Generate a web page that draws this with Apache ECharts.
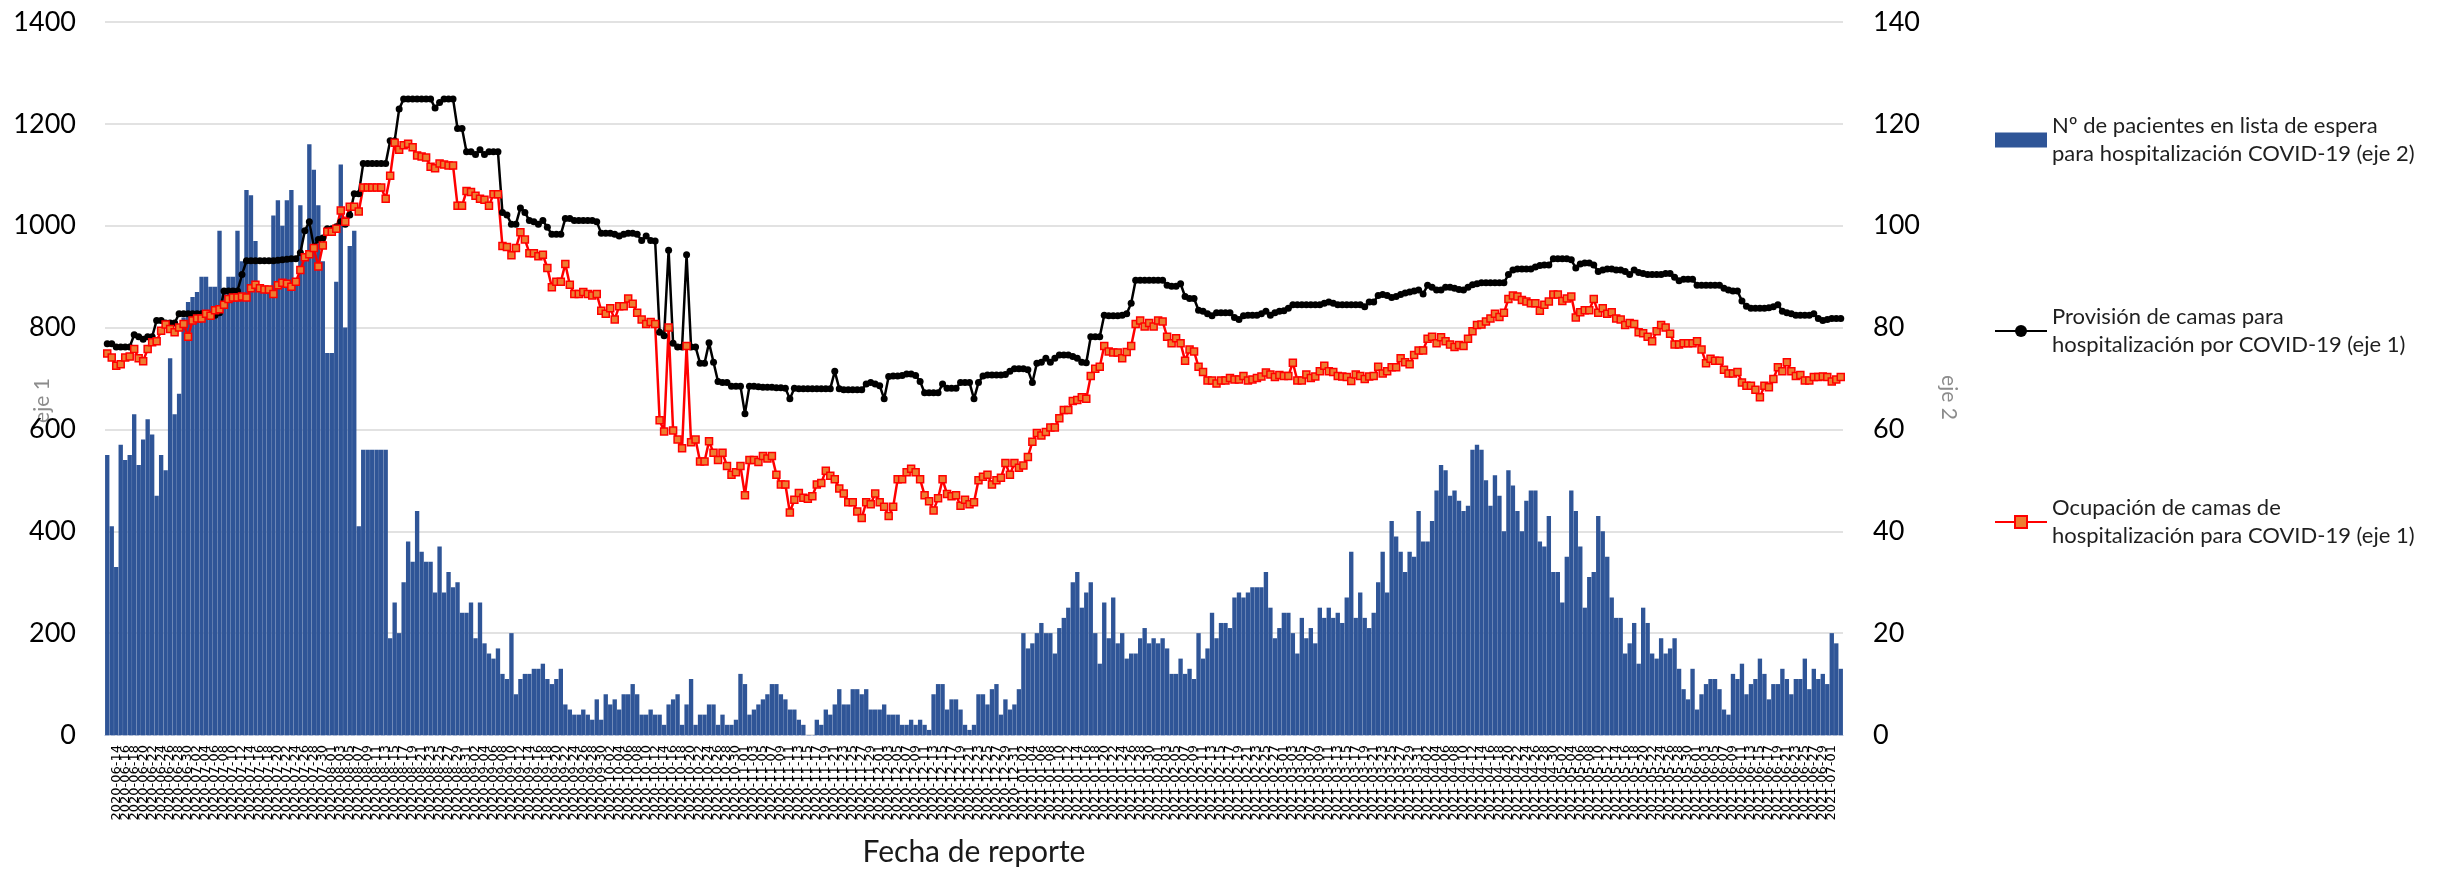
<!DOCTYPE html>
<html>
<head>
<meta charset="utf-8">
<script src="https://cdn.jsdelivr.net/npm/echarts@6/dist/echarts.min.js"></script>
<style>
  html, body { margin: 0; padding: 0; background: #fff; }
  #chart { width: 2438px; height: 871px; }
</style>
</head>
<body>
<div id="chart"></div>
<script>
// fechas de reporte: un dato por día, 2020-06-12 .. 2021-07-03
var fechaInicio = '2020-06-12';
var numDias = 387;
var fechas = [];
for (var i = 0; i < numDias; i++) {
    var d = new Date(Date.parse(fechaInicio + 'T00:00:00Z') + i * 86400000);
    fechas.push(d.toISOString().slice(0, 10));
}

// Nº de pacientes en lista de espera (eje 2)
var pacientesEspera = [
    55,41,33,57,54,55,63,53,58,62, 59,47,55,52,74,63,67,82,85,86,
    87,90,90,88,88,99,87,90,90,99, 93,107,106,97,88,88,88,102,105,100,
    105,107,89,104,94,116,111,104,93,75, 75,89,112,80,96,99,41,56,56,56,
    56,56,56,19,26,20,30,38,34,44, 36,34,34,28,37,28,32,29,30,24,
    24,26,19,26,18,16,15,17,12,11, 20,8,11,12,12,13,13,14,11,10,
    11,13,6,5,4,4,5,4,3,7, 3,8,6,7,5,8,8,10,8,4,
    4,5,4,4,2,6,7,8,2,6, 11,2,4,4,6,6,2,4,2,2,
    3,12,10,4,5,6,7,8,10,10, 8,7,5,5,3,2,0,0,3,2,
    5,4,6,9,6,6,9,9,8,9, 5,5,5,6,4,4,4,2,2,3,
    2,3,2,1,8,10,10,5,7,7, 5,2,1,2,8,8,6,9,10,4,
    7,5,6,9,20,17,18,20,22,20, 20,16,21,23,25,30,32,25,28,30,
    20,14,26,19,27,18,20,15,16,16, 19,21,18,19,18,19,17,12,12,15,
    12,13,11,20,15,17,24,19,22,22, 21,27,28,27,28,29,29,29,32,25,
    19,21,24,24,20,16,23,19,21,18, 25,23,25,23,24,22,27,36,23,28,
    23,21,24,30,36,28,42,39,36,32, 36,35,44,38,38,42,48,53,52,47,
    48,46,44,45,56,57,56,50,45,51, 47,40,52,49,44,40,46,48,48,38,
    37,43,32,32,26,35,48,44,37,25, 31,32,43,40,35,27,23,23,16,18,
    22,14,25,22,16,15,19,16,17,19, 13,9,7,13,5,8,10,11,11,9,
    5,4,12,11,14,8,10,11,15,12, 7,10,10,13,11,8,11,11,15,9,
    13,11,12,10,20,18,13
];

// Provisión de camas para hospitalización por COVID-19 (eje 1)
var provisionCamas = [
    768,768,762,762,762,762,786,782,777,782, 782,814,814,809,809,809,827,827,827,827,
    827,827,827,824,824,829,872,872,872,872, 904,931,931,931,931,931,931,931,932,933,
    934,935,935,947,990,1008,958,973,976,994, 994,998,1008,1003,1021,1063,1063,1122,1122,1122,
    1122,1122,1122,1167,1167,1229,1249,1249,1249,1249, 1249,1249,1249,1231,1242,1249,1249,1249,1191,1191,
    1145,1145,1140,1149,1140,1145,1145,1145,1026,1021, 1003,1003,1035,1026,1010,1008,1003,1010,997,983,
    983,983,1014,1014,1010,1010,1010,1010,1010,1008, 985,985,985,983,980,983,985,985,983,971,
    980,971,970,791,784,952,769,762,762,943, 762,762,730,730,770,732,694,692,692,685,
    685,685,631,685,685,684,683,683,683,682, 682,681,660,681,680,680,680,680,680,680,
    680,680,714,680,678,678,678,678,678,689, 692,689,686,660,704,705,705,706,709,709,
    706,694,672,672,672,672,689,681,681,681, 692,692,692,660,692,705,707,707,707,707,
    708,714,719,719,719,717,692,730,732,740, 732,740,746,746,746,743,740,732,731,782,
    782,782,824,823,823,823,824,827,848,893, 893,893,893,893,893,893,883,881,881,886,
    861,857,857,834,832,827,823,829,829,829, 829,820,816,823,824,824,824,827,832,824,
    829,832,833,838,845,845,845,845,845,845, 845,848,850,848,845,845,845,845,845,845,
    841,850,850,863,865,863,859,861,865,868, 870,872,874,866,883,879,874,874,879,879,
    877,875,874,879,884,886,888,888,888,888, 888,888,904,913,915,915,915,915,919,922,
    923,923,935,935,935,935,933,917,925,927, 927,923,910,913,915,915,913,913,910,904,
    913,908,906,904,904,904,904,906,906,899, 892,895,895,895,883,883,883,883,883,883,
    877,874,872,872,852,842,838,838,838,838, 839,841,845,832,829,827,824,824,824,824,
    827,818,814,816,818,818,818
];

// Ocupación de camas de hospitalización para COVID-19 (eje 1)
var ocupacionCamas = [
    749,741,725,728,741,743,758,740,734,758, 771,773,794,806,797,791,800,807,782,814,
    818,818,827,823,834,836,845,856,859,859, 861,859,877,884,877,875,875,866,883,888,
    886,880,890,913,938,944,956,920,961,988, 988,994,1030,1008,1037,1037,1028,1075,1075,1075,
    1075,1075,1053,1098,1163,1149,1158,1161,1154,1138, 1136,1134,1116,1113,1122,1120,1118,1118,1039,1039,
    1068,1066,1059,1053,1051,1039,1062,1062,960,958, 942,956,987,973,946,946,940,943,917,879,
    890,890,925,884,866,866,870,866,863,866, 833,827,838,816,842,842,857,847,829,816,
    807,811,807,618,596,800,598,580,563,764, 575,580,537,537,577,554,540,554,528,511,
    516,528,471,540,540,536,548,543,548,511, 492,492,437,462,475,466,464,469,492,495,
    519,509,502,484,474,457,457,439,426,457, 453,474,457,448,430,448,502,502,516,523,
    516,502,471,459,441,465,502,473,469,471, 450,462,453,457,500,507,511,492,500,505,
    534,511,534,525,529,546,576,593,588,595, 604,604,622,638,638,656,658,663,660,705,
    719,723,764,753,751,751,740,752,764,807, 814,802,809,802,814,812,782,769,779,769,
    735,757,753,723,713,696,696,690,696,696, 701,698,698,705,696,698,701,704,712,708,
    703,707,705,705,731,696,696,708,701,704, 714,725,714,713,705,704,703,695,708,705,
    699,704,705,723,710,714,722,722,740,732, 728,746,755,755,778,782,769,781,773,767,
    762,766,764,778,793,805,806,812,818,827, 821,829,856,863,861,854,851,848,848,833,
    845,851,865,865,852,857,861,820,830,834, 834,856,829,838,827,830,818,816,805,809,
    807,791,789,782,773,793,805,800,788,767, 767,769,769,769,773,757,730,739,735,735,
    717,710,710,713,692,686,686,678,663,686, 683,699,722,714,732,714,705,707,696,696,
    703,703,704,703,694,698,703
];

var ticksEje1 = [0, 1400, 200];
var ticksEje2 = [0, 140, 20];

var fuente = 'Lato';

var myChart = echarts.init(document.getElementById('chart'));
var option = {
    animation: false,
    backgroundColor: '#ffffff',
    textStyle: { fontFamily: fuente },
    grid: {
        left: 105,
        right: 595,
        top: 22,
        bottom: 136,
        containLabel: false,
        outerBoundsMode: 'none'
    },
    legend: {
        orient: 'vertical',
        left: 1994,
        top: 98,
        padding: 0,
        itemGap: 107,
        itemWidth: 52,
        itemHeight: 15,
        data: [
            { name: 'Nº de pacientes en lista de espera\npara hospitalización COVID-19 (eje 2)', icon: 'rect' },
            { name: 'Provisión de camas para\nhospitalización por COVID-19 (eje 1)' },
            { name: 'Ocupación de camas de\nhospitalización para COVID-19 (eje 1)' }
        ],
        textStyle: {
            fontFamily: fuente,
            fontSize: 22,
            lineHeight: 28,
            color: '#1f1f1f',
            padding: [28, 0, 0, 0]
        }
    },
    xAxis: {
        type: 'category',
        data: fechas,
        name: 'Fecha de reporte',
        nameLocation: 'middle',
        nameGap: 102,
        nameMoveOverlap: false,
        nameTextStyle: { fontFamily: fuente, fontSize: 30, color: '#1a1a1a' },
        axisLine: { lineStyle: { color: '#a9b8d4', type: 'dashed', width: 1 } },
        axisTick: { show: false },
        axisLabel: {
            interval: 1,
            rotate: 90,
            margin: 10,
            fontFamily: 'DejaVu Sans',
            fontSize: 13,
            color: '#000000'
        }
    },
    yAxis: [
        {
            type: 'value',
            min: ticksEje1[0],
            max: ticksEje1[1],
            interval: ticksEje1[2],
            name: 'eje 1',
            nameLocation: 'middle',
            nameGap: 52,
            nameMoveOverlap: false,
            nameTextStyle: { fontFamily: fuente, fontSize: 21, color: '#8c8c8c', padding: [0, 44, 0, 0] },
            axisLine: { show: false },
            axisTick: { show: false },
            axisLabel: {
                margin: 29, fontFamily: fuente, fontSize: 27, color: '#000000',
                formatter: function (v) { return String(v); }
            },
            splitLine: { lineStyle: { color: '#d9d9d9', width: 1.5 } }
        },
        {
            type: 'value',
            position: 'right',
            min: ticksEje2[0],
            max: ticksEje2[1],
            interval: ticksEje2[2],
            name: 'eje 2',
            nameLocation: 'middle',
            nameGap: 95,
            nameRotate: -90,
            nameMoveOverlap: false,
            nameTextStyle: { fontFamily: fuente, fontSize: 21, color: '#8c8c8c', padding: [0, 0, 0, 38] },
            axisLine: { show: false },
            axisTick: { show: false },
            axisLabel: {
                margin: 30, fontFamily: fuente, fontSize: 27, color: '#000000',
                formatter: function (v) { return String(v); }
            },
            splitLine: { show: false }
        }
    ],
    series: [
        {
            name: 'Nº de pacientes en lista de espera\npara hospitalización COVID-19 (eje 2)',
            type: 'bar',
            yAxisIndex: 1,
            barCategoryGap: '3%',
            itemStyle: { color: '#2f5597' },
            data: pacientesEspera
        },
        {
            name: 'Provisión de camas para\nhospitalización por COVID-19 (eje 1)',
            type: 'line',
            yAxisIndex: 0,
            symbol: 'circle',
            symbolSize: 7,
            showAllSymbol: true,
            lineStyle: { color: '#000000', width: 2.5 },
            itemStyle: { color: '#000000' },
            data: provisionCamas
        },
        {
            name: 'Ocupación de camas de\nhospitalización para COVID-19 (eje 1)',
            type: 'line',
            yAxisIndex: 0,
            symbol: 'rect',
            symbolSize: 7,
            showAllSymbol: true,
            lineStyle: { color: '#ff0000', width: 2.5 },
            itemStyle: { color: '#ed7d31', borderColor: '#ff0000', borderWidth: 1.5 },
            data: ocupacionCamas
        }
    ]
};
myChart.setOption(option);

window.addEventListener('resize', function () {
    myChart.resize();
});
</script>
</body>
</html>
